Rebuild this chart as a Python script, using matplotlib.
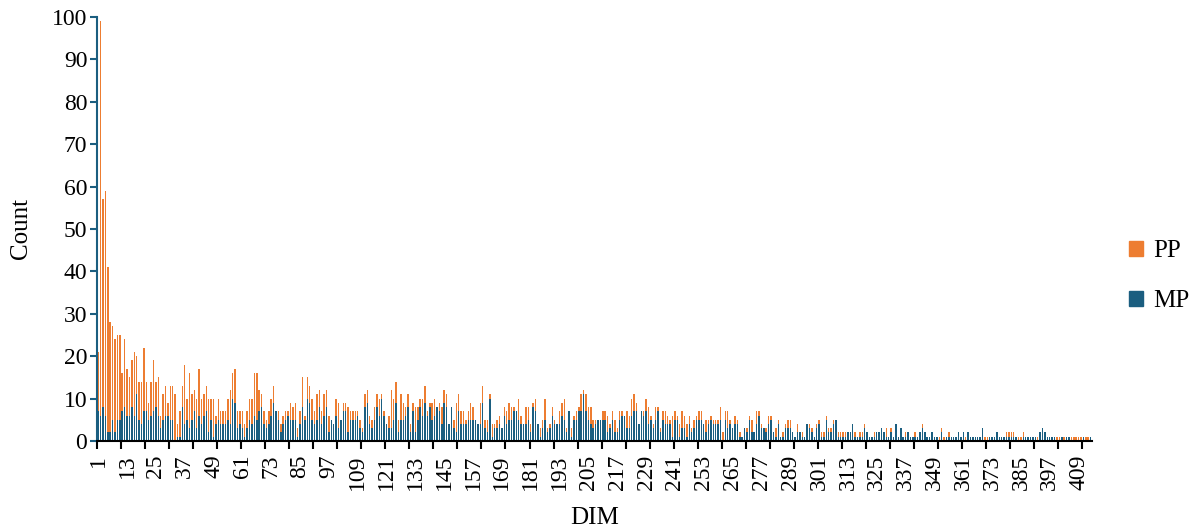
import numpy as np
import matplotlib
matplotlib.use("Agg")
from matplotlib import pyplot as plt
from matplotlib.patches import Patch

# PP / MP counts per DIM in blocks
pp_a = [21, 99, 57, 59, 41, 28, 27, 24, 25, 25, 16, 24, 17, 15, 19, 21, 20, 14, 14, 22,
        14, 9, 14, 19, 14, 15, 6, 11, 13, 9, 13, 13, 11, 4, 7, 13, 18, 10, 16, 11,
        12, 10, 17, 10, 11, 13, 10, 10, 10, 6, 10, 7, 7, 7, 10, 12, 16, 17, 7]
mp_a = [7, 6, 8, 6, 2, 2, 5, 2, 5, 5, 7, 8, 6, 6, 8, 6, 11, 5, 4, 7,
        7, 5, 6, 7, 8, 6, 3, 5, 6, 6, 5, 5, 0, 1, 1, 8, 4, 5, 3, 5,
        7, 3, 6, 4, 6, 7, 2, 5, 1, 4, 5, 4, 4, 4, 5, 4, 10, 9, 3]

pp_b = [7, 7, 4, 7, 10, 10, 16, 16, 12, 11, 7, 5, 7, 10, 13, 7, 7, 4, 6, 7, 7, 9]
mp_b = [4, 3, 1, 3, 5, 4, 6, 5, 7, 8, 4, 3, 4, 6, 9, 7, 5, 2, 4, 5, 6, 5]

pp_c = [8, 9, 3, 7, 15, 6, 15, 13, 10, 7, 11, 12, 7, 11, 12, 6, 5, 4, 10, 9,
        5, 9, 9, 8, 7, 7, 7, 7, 5, 3, 11, 12, 6, 5, 8, 11, 10, 11, 7, 4,
        6, 12, 10, 14, 5, 11, 9, 8, 11, 4, 9, 8, 8, 10, 10, 13, 7, 9, 9, 10,
        8, 9, 8, 12, 11, 4, 8, 5, 9, 11, 7, 7, 5, 7, 9, 8, 5, 4, 9, 13,
        5, 5, 11]
mp_c = [5, 5, 1, 4, 8, 5, 10, 9, 5, 4, 5, 8, 4, 6, 8, 2, 5, 4, 6, 3,
        5, 7, 7, 2, 5, 5, 5, 6, 3, 2, 8, 9, 4, 3, 5, 8, 6, 10, 6, 4,
        3, 3, 5, 9, 2, 5, 5, 6, 8, 2, 7, 2, 5, 8, 6, 9, 6, 8, 5, 6,
        8, 7, 4, 9, 8, 4, 8, 3, 2, 7, 4, 4, 4, 5, 5, 5, 5, 4, 4, 9,
        3, 2, 10]

pp_d = [4, 4, 5, 6, 3, 8, 7, 9, 8, 8, 7, 10, 6, 4, 8, 8, 4, 9, 10, 4,
        3, 5, 10, 3, 4, 8, 5, 4, 7, 9, 10, 3, 7, 3, 6, 7, 8, 11, 12, 11,
        8, 8, 5, 5, 5, 5, 7, 7, 6, 4, 7, 5, 3, 7, 7, 6, 7, 6, 10, 11,
        9, 4, 7, 7, 10, 8, 6, 4, 8, 8, 3, 7, 7, 6, 5, 6, 7, 6, 4, 7,
        6, 4, 6]
mp_d = [1, 3, 3, 4, 3, 6, 4, 5, 5, 7, 7, 5, 4, 4, 4, 5, 2, 8, 7, 4,
        1, 3, 5, 2, 3, 6, 4, 4, 4, 6, 5, 2, 7, 1, 5, 5, 7, 7, 11, 7,
        5, 4, 3, 4, 5, 5, 5, 5, 2, 3, 5, 2, 2, 5, 6, 6, 3, 3, 6, 7,
        7, 4, 7, 6, 7, 4, 5, 3, 5, 7, 2, 5, 4, 4, 4, 1, 5, 5, 1, 3,
        3, 1, 4]

pp_e = [3, 5, 6, 7, 7, 4, 5, 5, 6, 5, 5, 5, 8, 2, 7, 7, 5, 3, 6, 5,
        2, 1, 3, 3, 6, 5, 2, 7, 7, 4, 3, 3, 6, 6, 2, 3, 5, 1, 2, 4,
        5, 5, 2, 1, 4, 2, 2, 1, 4, 4, 3, 1, 4, 5, 2, 2, 6, 3, 3, 5,
        5, 2, 2, 2, 2, 2, 2, 4, 2, 1, 2, 2, 4, 2, 1, 1, 2, 2, 2, 3,
        2, 3, 1]
mp_e = [2, 3, 5, 5, 5, 4, 2, 4, 5, 4, 4, 4, 5, 0, 5, 3, 4, 3, 4, 4,
        1, 1, 3, 2, 5, 2, 2, 4, 6, 3, 3, 2, 4, 5, 2, 1, 4, 1, 1, 3,
        3, 3, 2, 1, 2, 2, 1, 1, 4, 3, 2, 1, 3, 4, 1, 1, 5, 2, 2, 4,
        5, 1, 1, 1, 1, 2, 2, 4, 1, 1, 1, 1, 3, 2, 1, 1, 1, 2, 2, 3,
        2, 1, 1]

pp_f = [3, 1, 4, 1, 3, 1, 2, 2, 1, 1, 2, 1, 2, 4, 2, 1, 1, 2, 1, 1,
        1, 3, 1, 1, 2, 1, 1, 1, 2, 1, 2, 1, 2, 1, 1, 1, 1, 1, 3, 1,
        1, 1, 1, 1, 2, 1, 1, 1, 2, 2, 2, 2, 1, 1, 1, 2, 1, 1, 1, 1,
        1, 1, 2, 3, 2, 1, 1, 1, 1, 1, 1, 1, 1, 1, 1, 1, 1, 1, 1, 1,
        1, 1, 1, 1]
mp_f = [2, 1, 4, 1, 3, 1, 1, 2, 1, 1, 1, 1, 2, 3, 2, 1, 1, 2, 1, 1,
        0, 2, 0, 1, 1, 1, 1, 1, 2, 1, 2, 0, 2, 1, 1, 1, 1, 1, 3, 0,
        0, 1, 1, 1, 2, 1, 1, 1, 1, 1, 1, 1, 1, 0, 0, 1, 1, 1, 1, 1,
        1, 0, 2, 3, 2, 1, 1, 1, 1, 0, 0, 1, 0, 1, 1, 0, 0, 0, 0, 0,
        1, 0, 0, 1]

pp = np.array(pp_a + pp_b + pp_c + pp_d + pp_e + pp_f)
mp = np.array(mp_a + mp_b + mp_c + mp_d + mp_e + mp_f)
n = min(len(pp), len(mp))
pp, mp = pp[:n], mp[:n]
dim = np.arange(1, n + 1)

orange = "#ED7D31"
blue = "#1B5E80"

plt.rcParams['font.family'] = ['Liberation Serif', 'DejaVu Serif']

fig = plt.figure(figsize=(11.9, 5.29), dpi=100)
ax = fig.add_axes([0.0815, 0.1664, 0.836, 0.8015])

ax.bar(dim, pp, width=0.6, color=orange, linewidth=0)
ax.bar(dim, mp, width=0.6, color=blue, linewidth=0)

ax.set_xlim(0.5, n + 0.5)
ax.set_ylim(0, 100)
ax.set_yticks(np.arange(0, 101, 10))

# labels every 12 DIM, tick marks every 10 at category boundaries
ax.set_xticks(np.arange(1, n + 1, 12))
ax.set_xticklabels([str(v) for v in np.arange(1, n + 1, 12)], rotation=90)
ax.set_xticks(np.arange(0.5, n + 1, 10), minor=True)
ax.tick_params(axis='x', which='major', length=0, labelsize=17, pad=10)
ax.tick_params(axis='x', which='minor', length=6, width=1.5, color='black', direction='out')
ax.tick_params(axis='y', length=5, width=1.5, color=blue, labelsize=17, direction='out', pad=2)

for s in ['top', 'right']:
    ax.spines[s].set_visible(False)
ax.spines['left'].set_color(blue)
ax.spines['left'].set_linewidth(1.5)
ax.spines['bottom'].set_color('black')
ax.spines['bottom'].set_linewidth(1.5)

ax.set_ylabel("Count", fontsize=18, labelpad=14)
ax.set_xlabel("DIM", fontsize=18, labelpad=12)

handles = [Patch(color=orange, label="PP"), Patch(color=blue, label="MP")]
fig.legend(handles=handles, loc='center left', bbox_to_anchor=(0.93, 0.478),
           frameon=False, fontsize=18, handlelength=0.55, handleheight=0.55,
           handletextpad=0.4, labelspacing=1.1)

fig.savefig("out.png", dpi=100)
